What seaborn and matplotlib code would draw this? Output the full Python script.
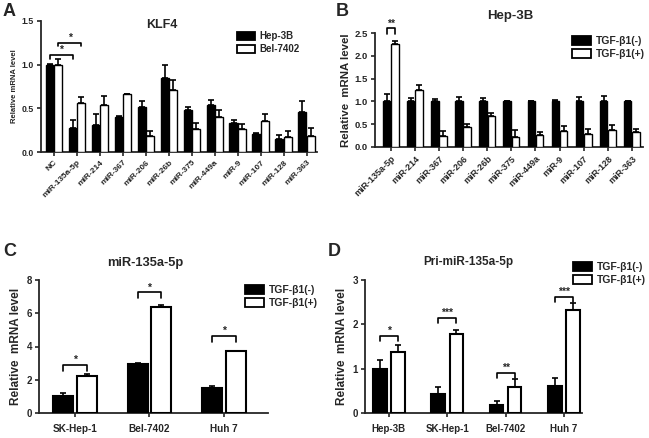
import numpy as np
import pandas as pd
import matplotlib
matplotlib.use("Agg")
import matplotlib.pyplot as plt
import matplotlib.patches as mpatches
import seaborn as sns

# ---- data ----
mirs_a = ["NC", "miR-135a-5p", "miR-214", "miR-367", "miR-206", "miR-26b",
          "miR-375", "miR-449a", "miR-9", "miR-107", "miR-128", "miR-363"]
hep3b_a = [1.0, 0.28, 0.31, 0.40, 0.51, 0.85, 0.48, 0.54, 0.33, 0.21, 0.15, 0.46]
hep3b_a_err = [0.01, 0.09, 0.13, 0.01, 0.07, 0.15, 0.04, 0.06, 0.04, 0.01, 0.05, 0.12]
bel_a = [1.0, 0.56, 0.54, 0.66, 0.18, 0.71, 0.26, 0.40, 0.26, 0.36, 0.17, 0.18]
bel_a_err = [0.06, 0.07, 0.10, 0.005, 0.06, 0.12, 0.07, 0.08, 0.06, 0.07, 0.07, 0.10]

mirs_b = mirs_a[1:]
tgf_neg_b = [1.0] * 11
tgf_neg_b_err = [0.17, 0.08, 0.05, 0.09, 0.08, 0.0, 0.01, 0.04, 0.09, 0.12, 0.01]
tgf_pos_b = [2.25, 1.25, 0.25, 0.43, 0.68, 0.23, 0.27, 0.36, 0.29, 0.37, 0.32]
tgf_pos_b_err = [0.08, 0.10, 0.09, 0.08, 0.07, 0.14, 0.06, 0.09, 0.10, 0.11, 0.08]

cells_c = ["SK-Hep-1", "Bel-7402", "Huh 7"]
tgf_neg_c = [1.0, 2.95, 1.5]
tgf_neg_c_err = [0.2, 0.08, 0.12]
tgf_pos_c = [2.25, 6.35, 3.7]
tgf_pos_c_err = [0.1, 0.15, 0.05]

cells_d = ["Hep-3B", "SK-Hep-1", "Bel-7402", "Huh 7"]
tgf_neg_d = [1.0, 0.42, 0.19, 0.61]
tgf_neg_d_err = [0.19, 0.17, 0.07, 0.19]
tgf_pos_d = [1.37, 1.79, 0.59, 2.33]
tgf_pos_d_err = [0.16, 0.09, 0.17, 0.15]

sns.set_style("ticks")
plt.rcParams["font.family"] = ["Liberation Sans", "DejaVu Sans"]
plt.rcParams["font.weight"] = "bold"

fig = plt.figure(figsize=(6.49, 4.38), dpi=100)
W, H = 649, 438


def px_axes(l, t, r, b):
    return fig.add_axes([l / W, 1 - b / H, (r - l) / W, (b - t) / H])


def draw(ax, cats, s1, e1, s2, e2, names, width, gap, lw):
    df = pd.DataFrame({
        "cat": cats * 2,
        "val": list(s1) + list(s2),
        "grp": [names[0]] * len(cats) + [names[1]] * len(cats),
    })
    sns.barplot(data=df, x="cat", y="val", hue="grp", order=cats,
                hue_order=names, palette={names[0]: "black", names[1]: "white"},
                edgecolor="black", linewidth=lw, width=width, gap=gap,
                errorbar=None, legend=False, ax=ax, zorder=3)
    centers = []
    for cont, err in zip(ax.containers, [e1, e2]):
        xs = [b.get_x() + b.get_width() / 2 for b in cont]
        ys = [b.get_height() for b in cont]
        ax.errorbar(xs, ys, yerr=[np.zeros(len(err)), err], fmt="none",
                    ecolor="black", elinewidth=1.2, capsize=2, capthick=1.2, zorder=2)
        centers.append(xs)
    ax.set_xlabel("")
    sns.despine(ax=ax)
    for s in ["left", "bottom"]:
        ax.spines[s].set_linewidth(1.3)
    ax.tick_params(width=1.2, length=3, pad=2)
    return centers


def bracket(ax, x1, x2, y, h, label, fs=7.5):
    ax.plot([x1, x1, x2, x2], [y - h, y, y, y - h], color="black", lw=1.2,
            zorder=4, clip_on=False)
    ax.text((x1 + x2) / 2, y, label, ha="center", va="bottom", fontsize=fs,
            fontweight="bold")


def legend(labels, x, y, fs):
    handles = [mpatches.Patch(fc="black", ec="black", lw=1.3, label=labels[0]),
               mpatches.Patch(fc="white", ec="black", lw=1.3, label=labels[1])]
    fig.legend(handles=handles, loc="upper left", bbox_to_anchor=(x / W, 1 - y / H),
               frameon=False, fontsize=fs, handlelength=1.8, handleheight=0.9,
               handletextpad=0.5, labelspacing=0.3, borderaxespad=0, borderpad=0)


tgf = ["TGF-β1(-)", "TGF-β1(+)"]

# ---- A ----
axA = px_axes(41, 21, 317, 152)
cA = draw(axA, mirs_a, hep3b_a, hep3b_a_err, bel_a, bel_a_err,
          ["Hep-3B", "Bel-7402"], 0.74, 0.05, 1.0)
axA.set_xlim(-0.57, 11.45)
axA.set_ylim(0, 1.5)
axA.set_yticks([0, 0.5, 1.0, 1.5])
axA.set_yticklabels(["0.0", "0.5", "1.0", "1.5"], fontsize=6.3, fontweight="bold")
axA.set_xticks(range(len(mirs_a)))
axA.set_xticklabels(mirs_a, rotation=45, ha="right", rotation_mode="anchor",
                    fontsize=6, fontweight="bold")
axA.set_ylabel("Relative mRNA level", fontsize=5.5, fontweight="bold", labelpad=3)
bracket(axA, cA[0][0], cA[0][1], 1.11, 0.04, "*")
bracket(axA, cA[1][0], cA[1][1], 1.25, 0.04, "*")
fig.text(162 / W, 1 - 25 / H, "KLF4", ha="center", va="center", fontsize=9, fontweight="bold")
legend(["Hep-3B", "Bel-7402"], 237, 31, 7)

# ---- B ----
axB = px_axes(375, 33, 643, 147)
cB = draw(axB, mirs_b, tgf_neg_b, tgf_neg_b_err, tgf_pos_b, tgf_pos_b_err,
          tgf, 0.69, 0.1, 1.0)
axB.set_xlim(-0.65, 10.46)
axB.set_ylim(0, 2.5)
axB.set_yticks([0, 0.5, 1.0, 1.5, 2.0, 2.5])
axB.set_yticklabels(["0.0", "0.5", "1.0", "1.5", "2.0", "2.5"], fontsize=6.8, fontweight="bold")
axB.set_xticks(range(len(mirs_b)))
axB.set_xticklabels(mirs_b, rotation=45, ha="right", rotation_mode="anchor",
                    fontsize=6.5, fontweight="bold")
axB.set_ylabel("Relative  mRNA level", fontsize=8.2, fontweight="bold", labelpad=3)
bracket(axB, cB[0][0], cB[1][0], 2.6, 0.12, "**")
fig.text(510 / W, 1 - 16 / H, "Hep-3B", ha="center", va="center", fontsize=9.5, fontweight="bold")
legend(tgf, 572, 36, 7.5)

# ---- C ----
axC = px_axes(39, 280, 268, 413)
cC = draw(axC, cells_c, tgf_neg_c, tgf_neg_c_err, tgf_pos_c, tgf_pos_c_err,
          tgf, 0.63, 0.15, 1.5)
axC.set_xlim(-0.48, 2.59)
axC.set_ylim(0, 8)
axC.set_yticks([0, 2, 4, 6, 8])
axC.set_yticklabels(["0", "2", "4", "6", "8"], fontsize=7, fontweight="bold")
axC.set_xticks(range(len(cells_c)))
axC.set_xticklabels(cells_c, fontsize=7.2, fontweight="bold")
axC.tick_params(axis="x", pad=5)
axC.set_ylabel("Relative  mRNA level", fontsize=8.5, fontweight="bold", labelpad=3)
for i, y in enumerate([2.9, 7.25, 4.62]):
    bracket(axC, cC[0][i], cC[1][i], y, 0.35, "*")
fig.text(145 / W, 1 - 263 / H, "miR-135a-5p", ha="center", va="center", fontsize=9.3, fontweight="bold")
legend(tgf, 245, 285, 7.5)

# ---- D ----
axD = px_axes(365, 280, 582, 413)
cD = draw(axD, cells_d, tgf_neg_d, tgf_neg_d_err, tgf_pos_d, tgf_pos_d_err,
          tgf, 0.62, 0.25, 1.5)
axD.set_xlim(-0.41, 3.31)
axD.set_ylim(0, 3)
axD.set_yticks([0, 1, 2, 3])
axD.set_yticklabels(["0", "1", "2", "3"], fontsize=7, fontweight="bold")
axD.set_xticks(range(len(cells_d)))
axD.set_xticklabels(cells_d, fontsize=7, fontweight="bold")
axD.tick_params(axis="x", pad=5)
axD.set_ylabel("Relative  mRNA level", fontsize=8.5, fontweight="bold", labelpad=3)
for i, (y, s) in enumerate(zip([1.74, 2.15, 0.9, 2.62], ["*", "***", "**", "***"])):
    bracket(axD, cD[0][i], cD[1][i], y, 0.12, s)
fig.text(468 / W, 1 - 262 / H, "Pri-miR-135a-5p", ha="center", va="center", fontsize=8.5, fontweight="bold")
legend(tgf, 573, 262, 7.5)

# ---- panel letters ----
for lab, x, y in [("A", 3, 12), ("B", 336, 12), ("C", 3, 252), ("D", 328, 252)]:
    fig.text(x / W, 1 - y / H, lab, ha="left", va="center", fontsize=13, fontweight="bold")

fig.savefig("out.png", dpi=100)
